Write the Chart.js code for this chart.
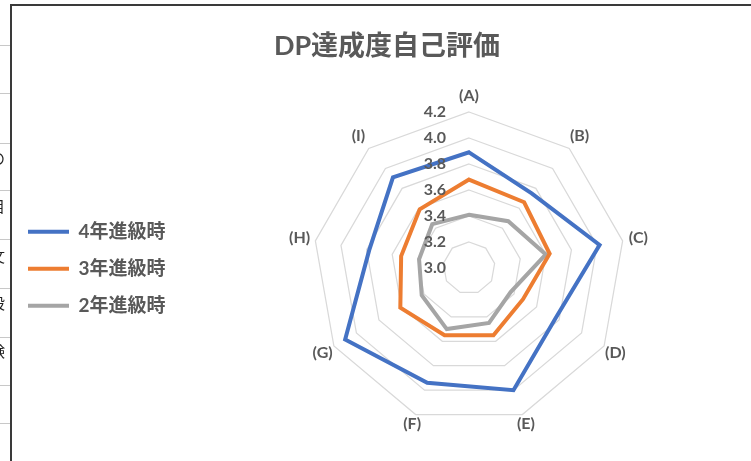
<!DOCTYPE html>
<html lang="ja">
<head>
<meta charset="utf-8">
<title>DP達成度自己評価</title>
<script src="https://cdn.jsdelivr.net/npm/chart.js@4.4.1/dist/chart.umd.min.js"></script>
<style>
  html, body { margin: 0; padding: 0; background: #fff; }
  body { width: 751px; height: 461px; overflow: hidden; position: relative; }
  #wrap { position: absolute; left: 0; top: 0; width: 764px; height: 461px; }
  #frame {
    position: absolute; left: 10px; top: 4px; width: 800px; height: 500px;
    border-left: 2px solid #3a3a3a; border-top: 2px solid #3a3a3a;
    pointer-events: none;
  }
  #cells {
    position: absolute; left: 0; top: 0; width: 10px; height: 461px; overflow: hidden;
    font: 15px "Noto Sans CJK JP", sans-serif; color: #222;
  }
  #cells .line { position: absolute; left: 0; width: 10px; height: 0; border-top: 1px solid #c8c8c8; }
  #cells .txt { position: absolute; left: -10px; line-height: 18px; }
</style>
</head>
<body>
<div id="wrap"><canvas id="radar"></canvas></div>
<div id="cells"></div>
<div id="frame"></div>
<script>
// axis categories
const axisLabels = ['(A)', '(B)', '(C)', '(D)', '(E)', '(F)', '(G)', '(H)', '(I)'];

// self-evaluation averages per year
const grade4 = [3.89, 3.75, 4.02, 3.77, 4.00, 3.94, 4.10, 3.78, 3.91];
const grade3 = [3.68, 3.66, 3.63, 3.48, 3.55, 3.55, 3.61, 3.53, 3.59];
const grade2 = [3.41, 3.47, 3.60, 3.37, 3.45, 3.50, 3.42, 3.39, 3.44];

const seriesNames = ['4年進級時', '3年進級時', '2年進級時'];
const seriesColors = ['#4472C4', '#ED7D31', '#A5A5A5'];

// value axis
const scaleMin = 3.0;
const scaleMax = 4.2;
const scaleStep = 0.2;

// worksheet cells peeking out on the left
const sheetRows = [45, 93, 143, 190, 239, 288, 337, 385, 423];
const sheetText = [['の', 149], ['目', 197], ['文', 247], ['設', 294], ['験', 342]];

const cells = document.getElementById('cells');
sheetRows.forEach(y => {
  const d = document.createElement('div');
  d.className = 'line';
  d.style.top = y + 'px';
  cells.appendChild(d);
});
sheetText.forEach(([ch, y]) => {
  const s = document.createElement('span');
  s.className = 'txt';
  s.style.top = y + 'px';
  s.textContent = ch;
  cells.appendChild(s);
});

const fontFamily = 'Lato, "Noto Sans CJK JP", sans-serif';
const textColor = '#595959';

// value labels left of the vertical axis, category labels centred past the outer ring
const radarText = {
  id: 'radarText',
  afterDatasetsDraw(chart) {
    const r = chart.scales.r;
    const ctx = chart.ctx;
    ctx.save();
    ctx.fillStyle = textColor;
    ctx.textBaseline = 'middle';

    ctx.font = 'bold 16px ' + fontFamily;
    ctx.textAlign = 'right';
    r.ticks.forEach(t => {
      const d = r.getDistanceFromCenterForValue(t.value);
      ctx.fillText(t.value.toFixed(1), r.xCenter - 23, r.yCenter - d);
    });

    ctx.textAlign = 'center';
    chart.data.labels.forEach((lbl, i) => {
      // labels below the centre sit a little closer to the ring
      const down = Math.max(0, Math.sin(r.getIndexAngle(i) - Math.PI / 2));
      const p = r.getPointPosition(i, r.drawingArea + 16 - 6 * down);
      ctx.fillText(lbl, p.x, p.y);
    });
    ctx.restore();
  }
};

const datasets = [grade4, grade3, grade2].map((vals, i) => ({
  label: seriesNames[i],
  data: vals,
  borderColor: seriesColors[i],
  backgroundColor: seriesColors[i],
  borderWidth: 4,
  borderCapStyle: 'round',
  fill: false,
  pointRadius: 0,
  pointHoverRadius: 0
}));

new Chart(document.getElementById('radar'), {
  type: 'radar',
  data: { labels: axisLabels, datasets: datasets },
  plugins: [radarText],
  options: {
    responsive: true,
    maintainAspectRatio: false,
    animation: false,
    layout: { padding: { left: 10, right: 0, top: 0, bottom: 36 } },
    elements: { line: { tension: 0 } },
    scales: {
      r: {
        min: scaleMin,
        max: scaleMax,
        ticks: { stepSize: scaleStep, display: false },
        grid: { color: '#d9d9d9', lineWidth: 1.25 },
        angleLines: { display: false },
        pointLabels: { display: false }
      }
    },
    plugins: {
      title: {
        display: true,
        text: 'DP達成度自己評価',
        color: textColor,
        font: { family: fontFamily, size: 27, weight: 'bold' },
        padding: { top: 30, bottom: 50 }
      },
      legend: {
        position: 'left',
        fullSize: false,
        maxWidth: 166,
        labels: {
          usePointStyle: true,
          pointStyle: 'line',
          pointStyleWidth: 41,
          padding: 18,
          color: textColor,
          font: { family: fontFamily, size: 19, weight: 'bold' }
        }
      },
      tooltip: { enabled: false }
    }
  }
});
</script>
</body>
</html>
